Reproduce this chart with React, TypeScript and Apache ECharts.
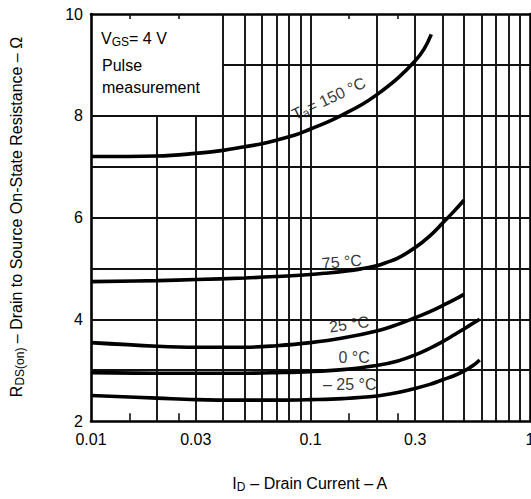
import React, { useEffect, useRef } from 'react';
import * as echarts from 'echarts';

// ---- axes ----
const xMin = 0.01;
const xMax = 1;
const yMin = 2;
const yMax = 10;
const yStep = 2;
const xTickValues = [0.01, 0.03, 0.1, 0.3, 1];
const xTickLabels = ['0.01', '0.03', '0.1', '0.3', '1'];
const xMinorTicks = [0.015, 0.025, 0.15, 0.25];

// ---- grid ----
const xGridLines = [0.02, 0.03, 0.04, 0.05, 0.06, 0.07, 0.08, 0.09, 0.1, 0.2, 0.3, 0.4, 0.5, 0.6, 0.7, 0.8, 0.9];
const yGridLines = [3, 4, 5, 6, 7, 8, 9];
// lines interrupted by the note box in the top-left corner
const boxedXLines = [0.02, 0.03];
const boxBottomY = 8;
const boxedYLines = [9];
const boxRightX = 0.04;

// ---- curves: Ta = 150, 75, 25, 0, -25 °C ----
const id150 = [0.01, 0.02, 0.03, 0.04, 0.05, 0.06, 0.07, 0.085, 0.1, 0.12, 0.14, 0.17, 0.2, 0.25, 0.3, 0.33, 0.355];
const r150 = [7.2, 7.21, 7.26, 7.32, 7.39, 7.45, 7.52, 7.62, 7.74, 7.88, 8.02, 8.21, 8.41, 8.74, 9.08, 9.32, 9.6];

const id75 = [0.01, 0.02, 0.03, 0.05, 0.07, 0.1, 0.12, 0.14, 0.17, 0.2, 0.22, 0.25, 0.3, 0.35, 0.4, 0.45, 0.5];
const r75 = [4.74, 4.76, 4.78, 4.81, 4.84, 4.88, 4.91, 4.94, 4.99, 5.05, 5.11, 5.2, 5.41, 5.64, 5.89, 6.12, 6.34];

const id25 = [0.01, 0.02, 0.03, 0.05, 0.07, 0.1, 0.14, 0.2, 0.25, 0.3, 0.35, 0.4, 0.45, 0.5];
const r25 = [3.54, 3.47, 3.45, 3.45, 3.48, 3.54, 3.63, 3.77, 3.9, 4.03, 4.15, 4.27, 4.38, 4.49];

const id0 = [0.01, 0.02, 0.03, 0.05, 0.07, 0.1, 0.14, 0.2, 0.25, 0.3, 0.35, 0.4, 0.45, 0.5, 0.55, 0.59];
const r0 = [2.95, 2.94, 2.94, 2.94, 2.95, 2.97, 3.01, 3.09, 3.18, 3.3, 3.43, 3.56, 3.69, 3.81, 3.92, 4.0];

const idm25 = [0.01, 0.02, 0.03, 0.05, 0.07, 0.1, 0.14, 0.2, 0.25, 0.3, 0.35, 0.4, 0.45, 0.5, 0.55, 0.59];
const rm25 = [2.5, 2.45, 2.42, 2.41, 2.41, 2.42, 2.44, 2.49, 2.56, 2.64, 2.72, 2.81, 2.89, 2.98, 3.09, 3.2];

const curveIds = [id150, id75, id25, id0, idm25];
const curveRs = [r150, r75, r25, r0, rm25];

// ---- curve labels ----
const curveLabelText = ['{n|T}{s|a}{n|= 150 °C}', '{n|75 °C}', '{n|25 °C}', '{n|0 °C}', '{n|– 25 °C}'];
const curveLabelX = [0.121, 0.139, 0.15, 0.158, 0.151];
const curveLabelY = [8.34, 5.13, 3.9, 3.25, 2.72];
const curveLabelRotate = [25, 5, 8, 0, 0];

const FONT = '"Liberation Sans", Arial, Helvetica, sans-serif';
const INK = '#000';

export default function App() {
  const ref = useRef<HTMLDivElement>(null);

  useEffect(() => {
    if (!ref.current) return;
    const chart = echarts.init(ref.current, undefined, { renderer: 'svg' });

    const gridSegments: any[] = [];
    xGridLines.forEach((x) => {
      const top = boxedXLines.includes(x) ? boxBottomY : yMax;
      gridSegments.push([{ coord: [x, yMin] }, { coord: [x, top] }]);
    });
    yGridLines.forEach((y) => {
      const left = boxedYLines.includes(y) ? boxRightX : xMin;
      gridSegments.push([{ coord: [left, y] }, { coord: [xMax, y] }]);
    });
    const tickSegments: any[] = [];
    xMinorTicks.forEach((x) => {
      tickSegments.push([{ coord: [x, yMin] }, { coord: [x, yMin + 0.15] }]);
      tickSegments.push([{ coord: [x, yMax - 0.1] }, { coord: [x, yMax] }]);
    });

    const norm = { fontSize: 16, fontFamily: FONT, color: INK };
    const sub = { fontSize: 12, fontFamily: FONT, color: INK, padding: [7, 0, 0, 0] };

    const curveSeries = curveIds.map((ids, i) => ({
      type: 'line',
      data: ids.map((x, k) => [x, curveRs[i][k]]),
      smooth: 0.4,
      showSymbol: false,
      symbol: 'none',
      silent: true,
      z: 5,
      lineStyle: { color: INK, width: 3.6 },
    }));

    const option: any = {
      animation: false,
      backgroundColor: '#fff',
      grid: { left: 91, right: 1, top: 14, bottom: 78, containLabel: false, outerBoundsMode: 'none' },
      xAxis: [
        {
          type: 'log',
          logBase: 10,
          min: xMin,
          max: xMax,
          position: 'bottom',
          axisLine: { show: true, lineStyle: { color: INK, width: 2.6 } },
          axisTick: { show: false },
          minorTick: { show: false },
          splitLine: { show: false },
          axisLabel: {
            customValues: xTickValues,
            showMaxLabel: true,
            showMinLabel: true,
            margin: 10,
            fontSize: 16,
            fontFamily: FONT,
            color: INK,
            formatter: (v: number) => {
              let best = 0;
              xTickValues.forEach((t, i) => {
                if (Math.abs(Math.log10(t) - Math.log10(v)) < Math.abs(Math.log10(xTickValues[best]) - Math.log10(v))) best = i;
              });
              return xTickLabels[best];
            },
          },
        },
        {
          type: 'log',
          logBase: 10,
          min: xMin,
          max: xMax,
          position: 'top',
          axisLine: { show: true, lineStyle: { color: INK, width: 2.6 } },
          axisTick: { show: false },
          splitLine: { show: false },
          axisLabel: { show: false },
        },
      ],
      yAxis: [
        {
          type: 'value',
          min: yMin,
          max: yMax,
          interval: yStep,
          position: 'left',
          axisLine: { show: true, lineStyle: { color: INK, width: 2.6 } },
          axisTick: { show: false },
          splitLine: { show: false },
          axisLabel: { margin: 8, fontSize: 16, fontFamily: FONT, color: INK },
        },
        {
          type: 'value',
          min: yMin,
          max: yMax,
          interval: yStep,
          position: 'right',
          axisLine: { show: true, lineStyle: { color: INK, width: 2.6 } },
          axisTick: { show: false },
          splitLine: { show: false },
          axisLabel: { show: false },
        },
      ],
      series: [
        {
          type: 'line',
          data: [],
          silent: true,
          z: 1,
          markLine: {
            silent: true,
            symbol: ['none', 'none'],
            label: { show: false },
            lineStyle: { color: '#111', width: 1.9, type: 'solid' },
            emphasis: { disabled: true },
            data: gridSegments,
          },
        },
        {
          type: 'line',
          data: [],
          silent: true,
          z: 1,
          markLine: {
            silent: true,
            symbol: ['none', 'none'],
            label: { show: false },
            lineStyle: { color: '#111', width: 1.6, type: 'solid' },
            emphasis: { disabled: true },
            data: tickSegments,
          },
        },
        {
          type: 'scatter',
          symbolSize: 0,
          silent: true,
          z: 3,
          data: curveLabelText.map((t, i) => ({
            value: [curveLabelX[i], curveLabelY[i]],
            label: {
              show: true,
              position: 'inside',
              rotate: curveLabelRotate[i],
              formatter: t,
              backgroundColor: '#fff',
              padding: [0, 2],
              rich: { n: norm, s: sub },
            },
          })),
        },
        ...curveSeries,
      ],
      graphic: [
        {
          type: 'text',
          left: 101,
          top: 30,
          style: {
            text: '{n|V}{s|GS}{n|= 4 V}',
            rich: { n: norm, s: sub },
          },
        },
        { type: 'text', left: 102, top: 57, style: { text: 'Pulse', fontSize: 16, fontFamily: FONT, fill: INK } },
        { type: 'text', left: 102, top: 79, style: { text: 'measurement', fontSize: 16, fontFamily: FONT, fill: INK } },
        {
          type: 'text',
          x: 16,
          y: 217,
          rotation: Math.PI / 2,
          style: {
            text: '{n|R}{s|DS(on)}{n| – Drain to Source On-State Resistance – Ω}',
            align: 'center',
            verticalAlign: 'middle',
            rich: { n: norm, s: sub },
          },
        },
        {
          type: 'text',
          x: 310,
          y: 483,
          style: {
            text: '{n|I}{s|D}{n| – Drain Current – A}',
            align: 'center',
            verticalAlign: 'middle',
            rich: { n: norm, s: sub },
          },
        },
      ],
    };

    chart.setOption(option);
    return () => chart.dispose();
  }, []);

  return <div ref={ref} style={{ position: 'fixed', left: 0, top: 0, width: 531, height: 499, background: '#fff' }} />;
}
